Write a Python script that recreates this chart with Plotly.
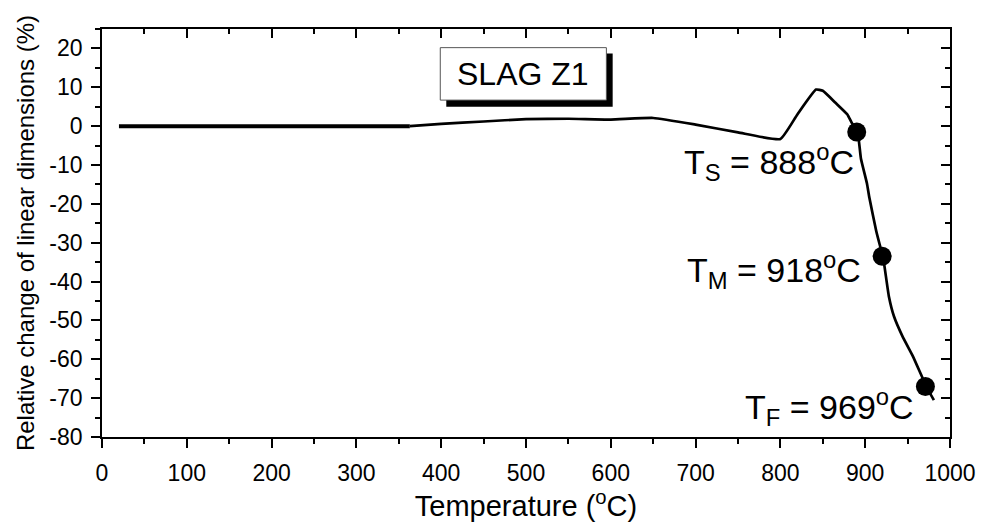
import plotly.graph_objects as go

# ---- data ----
temperature = [20, 100, 200, 300, 363, 400, 450, 500, 550, 600, 650, 700, 750, 800,
               820, 842, 850, 865, 879, 884, 891, 895, 902, 905, 913, 917, 921,
               928, 934, 944, 956, 964, 972, 981]
rel_change = [0, 0, 0, 0, 0, 0.6, 1.2, 1.8, 1.9, 1.7, 2.1, 0.4, -1.6, -3.3,
              3.0, 9.4, 9.1, 6.0, 3.0, 0.9, -1.5, -8.4, -14.7, -18.5, -27, -30.4, -33.6,
              -43.9, -49.0, -54.1, -59.1, -63.0, -67.0, -70.5]

point_temps = [890, 920, 971]
point_vals = [-1.5, -33.5, -67.0]

x_ticks = [0, 100, 200, 300, 400, 500, 600, 700, 800, 900, 1000]
x_tick_text = ["0", "100", "200", "300", "400", "500", "600", "700", "800", "900", "1000"]
y_ticks = [20, 10, 0, -10, -20, -30, -40, -50, -60, -70, -80]
y_tick_text = ["20", "10", "0", "-10", "-20", "-30", "-40", "-50", "-60", "-70", "-80"]

FONT = "Liberation Sans, Arial, sans-serif"

fig = go.Figure()

# thick early flat part (dense data in original)
n_flat = 5
fig.add_trace(go.Scatter(x=temperature[:n_flat], y=rel_change[:n_flat], mode="lines",
                         line=dict(color="black", width=4), showlegend=False, hoverinfo="skip"))
fig.add_trace(go.Scatter(x=temperature[n_flat - 1:], y=rel_change[n_flat - 1:], mode="lines",
                         line=dict(color="black", width=2.7, shape="spline", smoothing=0.4),
                         showlegend=False))
fig.add_trace(go.Scatter(x=point_temps, y=point_vals, mode="markers",
                         marker=dict(color="black", size=19), showlegend=False))
# dummy trace for mirrored axes
fig.add_trace(go.Scatter(x=[None], y=[None], xaxis="x2", yaxis="y2", showlegend=False,
                         hoverinfo="skip"))

axis_common = dict(showgrid=False, zeroline=False, showline=True, linecolor="black",
                   linewidth=1.6)

# the page body has an 8px margin, so the figure is offset by 8px
fig.update_layout(
    width=980, height=514,
    margin=dict(l=94, r=37, t=21, b=80),
    paper_bgcolor="white", plot_bgcolor="white",
    font=dict(family=FONT, color="black"),
    xaxis=dict(range=[0, 1000], tickvals=x_ticks, ticktext=x_tick_text, ticks="outside",
               ticklen=9, tickwidth=1.6,
               tickcolor="black", tickfont=dict(size=23, family=FONT), ticklabelstandoff=6,
               minor=dict(dtick=50, ticks="outside", ticklen=5, tickwidth=1.6, tickcolor="black"),
               title=dict(text="Temperature (<sup>o</sup>C)", font=dict(size=29, family=FONT),
                          standoff=3),
               **axis_common),
    yaxis=dict(range=[-80, 25], tickvals=y_ticks, ticktext=y_tick_text, ticks="outside",
               ticklen=9, tickwidth=1.6,
               tickcolor="black", tickfont=dict(size=23, family=FONT), ticklabelstandoff=4,
               minor=dict(dtick=5, ticks="outside", ticklen=5, tickwidth=1.6, tickcolor="black"),
               title=dict(text="Relative change of linear dimensions (%)",
                          font=dict(size=24, family=FONT), standoff=8),
               **axis_common),
    xaxis2=dict(range=[0, 1000], overlaying="x", side="top", anchor="y2", tickvals=x_ticks,
                ticks="inside", ticklen=9, tickwidth=1.6, tickcolor="black", showticklabels=False,
                minor=dict(dtick=50, ticks="inside", ticklen=5, tickwidth=1.6, tickcolor="black"),
                **axis_common),
    yaxis2=dict(range=[-80, 25], overlaying="y", side="right", anchor="x2", tickvals=y_ticks,
                ticks="inside", ticklen=9, tickwidth=1.6, tickcolor="black", showticklabels=False,
                minor=dict(dtick=5, ticks="inside", ticklen=5, tickwidth=1.6, tickcolor="black"),
                **axis_common),
)

# SLAG Z1 box with shadow
fig.add_shape(type="rect", xref="x", yref="y", x0=406, x1=602.2, y0=5.0, y1=18.7,
              fillcolor="black", line=dict(width=0), layer="above")
fig.add_shape(type="rect", xref="x", yref="y", x0=398.9, x1=594.8, y0=6.7, y1=20.2,
              fillcolor="white", line=dict(color="#555555", width=1), layer="above")
fig.add_annotation(x=496.3, y=13.45, xref="x", yref="y", text="SLAG Z1", showarrow=False,
                   font=dict(size=32, family=FONT, color="black"),
                   xanchor="center", yanchor="middle")

labels = ["T<sub>S</sub> = 888<sup>o</sup>C", "T<sub>M</sub> = 918<sup>o</sup>C",
          "T<sub>F</sub> = 969<sup>o</sup>C"]
label_x = [889.3, 897.5, 959.6]
label_y = [-9.2, -37.0, -72.2]
for t, lx, ly in zip(labels, label_x, label_y):
    fig.add_annotation(x=lx, y=ly, xref="x", yref="y", text=t, showarrow=False,
                       font=dict(size=34, family=FONT, color="black"),
                       xanchor="right", yanchor="middle")

fig.write_html("out.html")
